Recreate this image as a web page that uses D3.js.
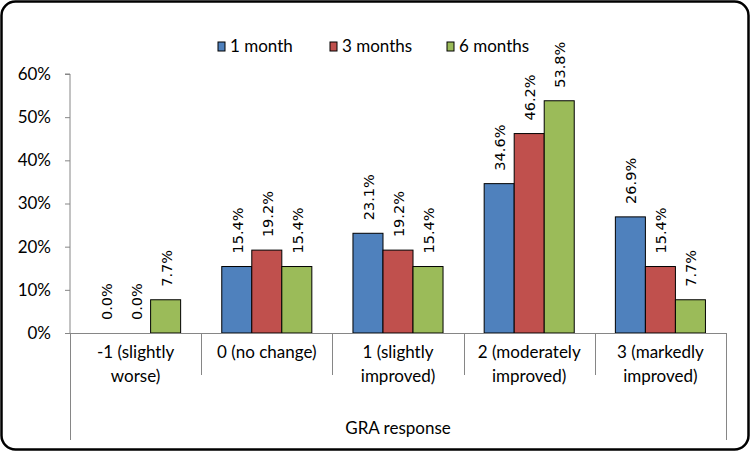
<!DOCTYPE html>
<html>
<head>
<meta charset="utf-8">
<script src="https://cdn.jsdelivr.net/npm/d3@7"></script>
<style>
  body { margin: 0; background: #fff; }
  svg text { fill: #000; }
</style>
</head>
<body>
<div id="main"></div>
<script>
var categories = [["-1 (slightly", "worse)"], ["0 (no change)"], ["1 (slightly", "improved)"], ["2 (moderately", "improved)"], ["3 (markedly", "improved)"]]
var seriesNames = ["1 month", "3 months", "6 months"]
var oneMonth = [0.0, 15.4, 23.1, 34.6, 26.9]
var threeMonths = [0.0, 19.2, 19.2, 46.2, 15.4]
var sixMonths = [7.7, 15.4, 15.4, 53.8, 7.7]
var yTicks = [0, 10, 20, 30, 40, 50, 60]
var colors = ["#4f81bd", "#c0504d", "#9bbb59"]

var width = 750, height = 451
var plot = { left: 70, right: 726, top: 74, bottom: 333 }
var axisFont = "Lato, 'Open Sans', sans-serif"

var svg = d3.select("#main").append("svg")
            .attr("width", width)
            .attr("height", height)

// outer frame
svg.append("rect")
   .attr("x", 1.5).attr("y", 1.5)
   .attr("width", width - 3).attr("height", height - 3)
   .attr("rx", 14).attr("ry", 14)
   .attr("fill", "#fff")
   .attr("stroke", "#000")
   .attr("stroke-width", 2.5)

var seriesValues = [oneMonth, threeMonths, sixMonths]
var data = []
categories.forEach(function(c, i){
  seriesValues.forEach(function(s, j){
    data.push({ cat: i, series: j, value: s[i] })
  })
})

var x = d3.scaleBand()
          .domain(d3.range(categories.length))
          .range([plot.left, plot.right])
var inner = d3.scaleBand()
              .domain(d3.range(seriesNames.length))
              .range([0, x.bandwidth()])
              .paddingOuter(0.685)
var y = d3.scaleLinear()
          .domain([0, 60])
          .range([plot.bottom, plot.top])

// y axis
var yAxis = svg.append("g")
               .attr("transform", "translate(" + plot.left + ",0)")
               .call(d3.axisLeft(y).tickValues(yTicks).tickSize(5).tickPadding(14)
                       .tickFormat(function(d){ return d + "%" }))
yAxis.selectAll("path, line").attr("stroke", "#868686")
yAxis.select(".domain").attr("d", "M-5," + y(60) + "H0V" + y(0))
yAxis.selectAll("text")
     .attr("font-family", axisFont)
     .attr("font-size", 17)
     .attr("fill", "#000")

// bars
svg.append("g").selectAll("rect")
   .data(data)
   .enter()
   .append("rect")
   .attr("x", function(d){ return x(d.cat) + inner(d.series) })
   .attr("y", function(d){ return y(d.value) })
   .attr("width", inner.bandwidth())
   .attr("height", function(d){ return y(0) - y(d.value) })
   .attr("fill", function(d){ return colors[d.series] })
   .attr("stroke", "#000")
   .attr("stroke-width", 1)
   .style("display", function(d){ return d.value > 0 ? null : "none" })

// value labels
svg.append("g").selectAll("text")
   .data(data)
   .enter()
   .append("text")
   .attr("transform", function(d){
     var cx = x(d.cat) + inner(d.series) + inner.bandwidth() / 2
     return "translate(" + (cx + 6) + "," + (y(d.value) - 13) + ") rotate(-90)"
   })
   .attr("font-family", "'DejaVu Sans', sans-serif")
   .attr("font-size", 14.5)
   .text(function(d){ return d.value.toFixed(1) + "%" })

// x axis line and category separators
var xg = svg.append("g").attr("stroke", "#868686").attr("stroke-width", 1)
xg.append("line")
  .attr("x1", plot.left).attr("x2", plot.right)
  .attr("y1", y(0) + 0.5).attr("y2", y(0) + 0.5)
var seps = d3.range(categories.length + 1)
xg.selectAll(".sep")
  .data(seps)
  .enter()
  .append("line")
  .attr("class", "sep")
  .attr("x1", function(d){ return Math.round(plot.left + d * x.step()) + 0.5 })
  .attr("x2", function(d){ return Math.round(plot.left + d * x.step()) + 0.5 })
  .attr("y1", y(0))
  .attr("y2", function(d){ return (d == 0 || d == categories.length) ? 440 : 375 })

// category labels
var catText = svg.append("g").selectAll("text")
   .data(categories)
   .enter()
   .append("text")
   .attr("text-anchor", "middle")
   .attr("font-family", axisFont)
   .attr("font-size", 17)
   .attr("x", function(d, i){ return x(i) + x.bandwidth() / 2 })
   .attr("y", 358)
catText.selectAll("tspan")
   .data(function(d){ return d })
   .enter()
   .append("tspan")
   .attr("x", function(){ return d3.select(this.parentNode).attr("x") })
   .attr("dy", function(d, i){ return i == 0 ? 0 : 24 })
   .text(function(d){ return d })

svg.append("text")
   .attr("x", (plot.left + plot.right) / 2)
   .attr("y", 434)
   .attr("text-anchor", "middle")
   .attr("font-family", axisFont)
   .attr("font-size", 17)
   .text("GRA response")

// legend
var legendX = [218, 330, 447]
var legend = svg.append("g").selectAll("g")
   .data(seriesNames)
   .enter()
   .append("g")
   .attr("transform", function(d, i){ return "translate(" + legendX[i] + ",42)" })
legend.append("rect")
   .attr("width", 7).attr("height", 9)
   .attr("fill", function(d, i){ return colors[i] })
   .attr("stroke", "#000")
legend.append("text")
   .attr("x", 12).attr("y", 10)
   .attr("font-family", axisFont)
   .attr("font-size", 17)
   .text(function(d){ return d })
</script>
</body>
</html>
